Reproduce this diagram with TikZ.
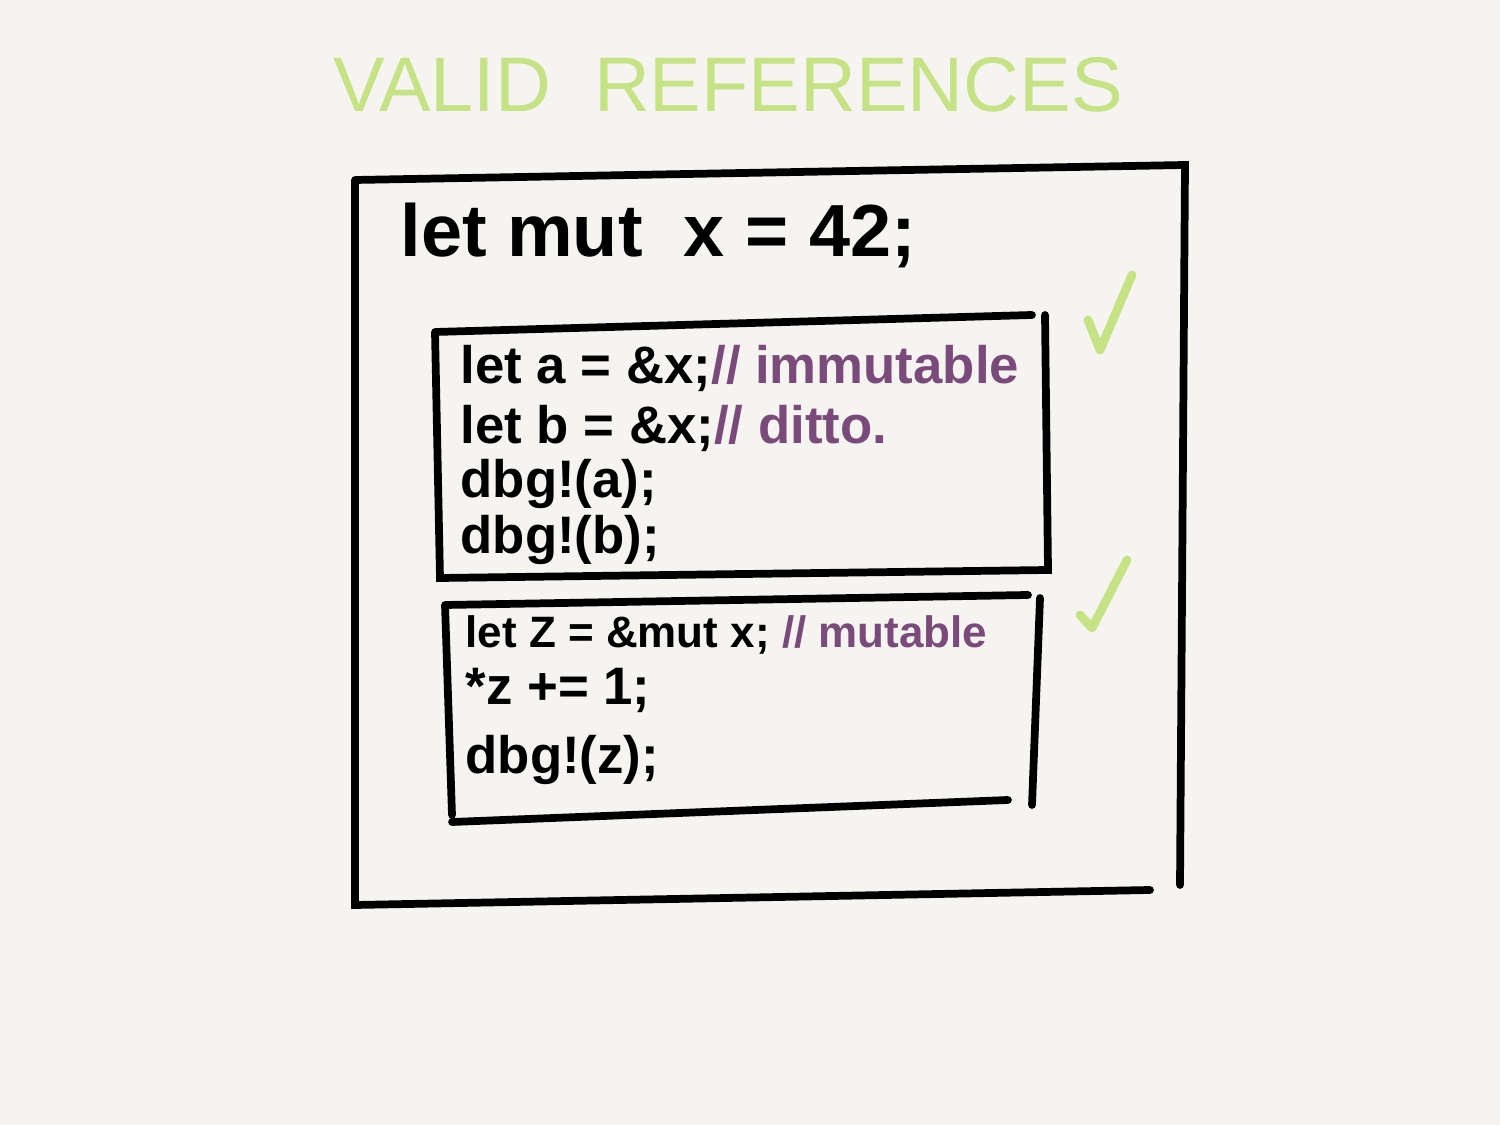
\documentclass[tikz,border=0pt]{standalone}
\usepackage{fontspec}
\setmainfont{Liberation Sans}
\usetikzlibrary{positioning}
\definecolor{paper}{HTML}{F5F4F0}
\definecolor{chalkgreen}{HTML}{C5E384}
\definecolor{chalkpurple}{HTML}{7A4A7A}
\tikzset{
  frame/.style={draw=black, line width=2.2pt, line cap=round},
  code/.style={anchor=west, inner sep=0pt, font=\bfseries\fontsize{15}{18}\selectfont},
  tick/.style={draw=chalkgreen, line width=2.5pt, line cap=round, line join=round}
}
\begin{document}
\begin{tikzpicture}[x=0.01cm, y=-0.01cm]
  \useasboundingbox (0,0) rectangle (1500,1125);
  \fill[paper] (0,0) rectangle (1500,1125);

  \node (title) [text=chalkgreen, font=\fontsize{22}{26}\selectfont] at (728,85) {VALID\ \ REFERENCES};

  \draw[frame] (355,180) -- (1185,165) -- (1180,885) (1150,890) -- (355,905) -- (355,180);
  \node (letx) [code, font=\bfseries\fontsize{21}{25}\selectfont] at (400,235) {let mut\ \ x = 42;};

  \draw[frame] (435,332) -- (1032,315) (1045,315) -- (1048,570) -- (440,578) -- (435,332);
  \node (linea) [code] at (460,368) {let a = \&x;\textcolor{chalkpurple}{// immutable}};
  \node (lineb) [code] at (460,428) {let b = \&x;\textcolor{chalkpurple}{// ditto.}};
  \node (dbga) [code] at (460,484) {dbg!(a);};
  \node (dbgb) [code] at (460,540) {dbg!(b);};

  \draw[frame] (445,605) -- (1028,595) (1040,598) -- (1032,805) (1008,800) -- (452,822) (452,815) -- (445,605);
  \node (linez) [code, font=\bfseries\fontsize{12.5}{15}\selectfont] at (465,635) {let Z = \&mut x; \textcolor{chalkpurple}{// mutable}};
  \node (incz) [code] at (465,690) {*z += 1;};
  \node (dbgz) [code] at (465,760) {dbg!(z);};

  \draw[tick] (1088,320) -- (1100,350) -- (1132,275);
  \draw[tick] (1080,615) -- (1092,628) -- (1127,560);
\end{tikzpicture}
\end{document}
